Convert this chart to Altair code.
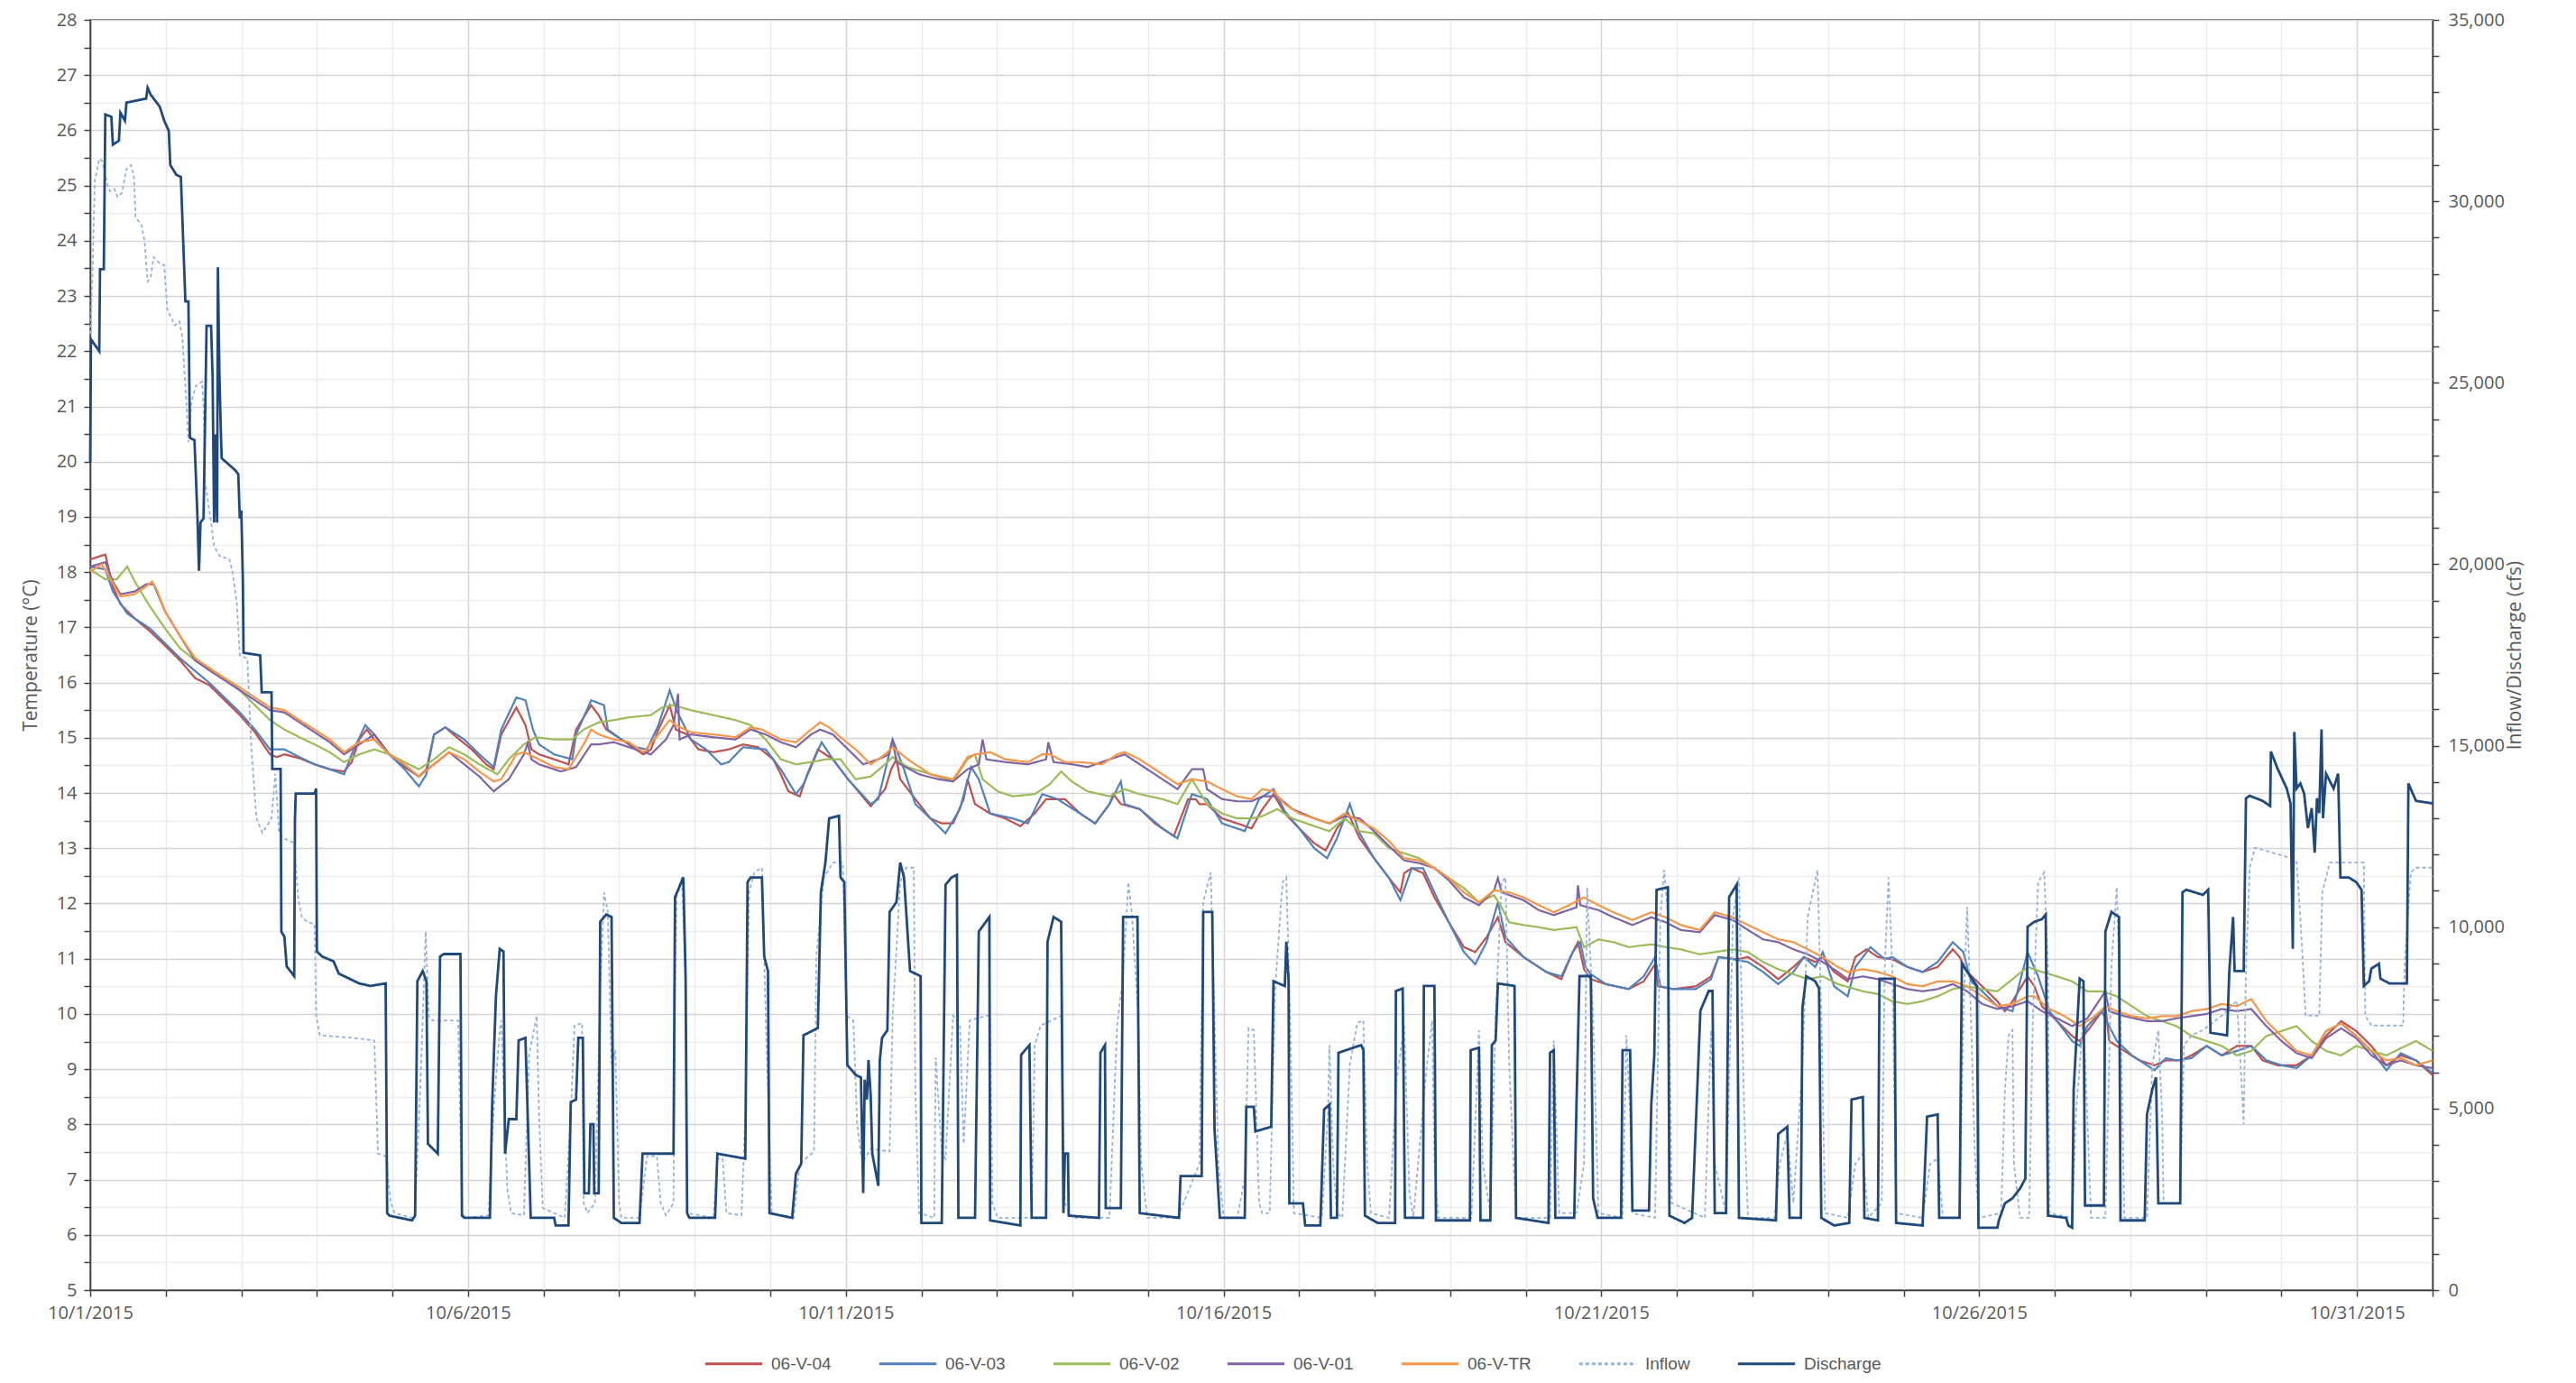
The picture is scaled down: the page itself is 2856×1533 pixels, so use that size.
import altair as alt
import pandas as pd

SERIES = ["06-V-04", "06-V-03", "06-V-02", "06-V-01", "06-V-TR", "Inflow", "Discharge"]
COLORS = ["#C0504D", "#4F81BD", "#9BBB59", "#8064A2", "#F79646", "#95B3D7", "#1F497D"]
DASHES = [[1, 0], [1, 0], [1, 0], [1, 0], [1, 0], [4, 3], [1, 0]]

# x = days since 10/1/2015, value = temperature (deg C)
V04 = [[0.00,18.23],[0.20,18.32],[0.30,17.74],[0.40,17.42],[0.59,17.16],[0.79,16.93],[0.99,16.67],[1.19,16.40],[1.39,16.08],[1.58,15.95],[1.78,15.68],[1.98,15.41],[2.18,15.10],[2.38,14.70],[2.47,14.65],[2.57,14.70],[2.77,14.63],[2.97,14.52],[3.17,14.43],[3.36,14.39],[3.46,14.56],[3.56,14.97],[3.66,15.15],[3.76,14.97],[3.96,14.70],[4.16,14.47],[4.35,14.30],[4.45,14.43],[4.55,15.06],[4.70,15.19],[4.85,15.01],[5.05,14.79],[5.24,14.52],[5.34,14.43],[5.44,15.06],[5.64,15.55],[5.76,15.23],[5.84,14.79],[5.94,14.70],[6.14,14.61],[6.33,14.52],[6.43,15.15],[6.63,15.59],[6.73,15.41],[6.83,15.15],[7.03,14.97],[7.22,14.79],[7.32,14.70],[7.42,14.79],[7.52,15.15],[7.67,15.59],[7.75,15.15],[7.90,15.06],[8.05,14.79],[8.25,14.74],[8.45,14.79],[8.64,14.88],[8.84,14.83],[9.04,14.61],[9.14,14.34],[9.24,14.03],[9.39,13.94],[9.49,14.34],[9.63,14.79],[9.83,14.61],[10.03,14.25],[10.33,13.76],[10.52,14.07],[10.60,14.43],[10.67,14.61],[10.72,14.25],[10.92,13.89],[11.12,13.54],[11.27,13.45],[11.42,13.45],[11.56,13.89],[11.61,14.25],[11.71,13.80],[11.91,13.63],[12.11,13.54],[12.31,13.40],[12.50,13.63],[12.65,13.89],[12.90,13.89],[13.10,13.63],[13.30,13.45],[13.49,13.80],[13.54,13.98],[13.64,13.80],[13.89,13.71],[14.09,13.45],[14.34,13.22],[14.53,13.89],[14.63,13.89],[14.68,13.80],[14.78,13.80],[14.98,13.54],[15.18,13.45],[15.37,13.36],[15.51,13.70],[15.66,13.98],[15.81,13.63],[16.00,13.36],[16.20,13.09],[16.35,12.96],[16.50,13.36],[16.65,13.63],[16.80,13.18],[16.99,12.82],[17.19,12.46],[17.34,12.20],[17.39,12.55],[17.49,12.64],[17.64,12.55],[17.79,12.11],[17.98,11.66],[18.18,11.21],[18.33,11.12],[18.48,11.39],[18.63,11.75],[18.73,11.30],[18.97,11.03],[19.27,10.76],[19.47,10.63],[19.62,11.12],[19.69,11.30],[19.77,10.81],[19.86,10.63],[20.06,10.54],[20.36,10.45],[20.56,10.59],[20.71,10.90],[20.75,10.50],[20.95,10.45],[21.25,10.50],[21.45,10.68],[21.55,11.03],[21.79,10.99],[21.94,11.03],[22.14,10.85],[22.34,10.63],[22.54,10.85],[22.68,11.03],[22.83,10.94],[22.93,11.03],[23.08,10.76],[23.26,10.59],[23.36,11.03],[23.51,11.17],[23.66,11.03],[23.85,10.99],[24.05,10.85],[24.25,10.76],[24.45,10.85],[24.65,11.17],[24.74,11.03],[24.84,10.76],[25.04,10.50],[25.24,10.23],[25.34,10.05],[25.44,10.23],[25.64,10.68],[25.73,10.50],[25.83,10.14],[26.03,9.87],[26.23,9.60],[26.33,9.51],[26.53,9.87],[26.67,10.14],[26.72,9.51],[26.92,9.33],[27.12,9.16],[27.32,9.07],[27.47,9.16],[27.66,9.16],[27.81,9.25],[28.01,9.42],[28.21,9.25],[28.41,9.42],[28.60,9.42],[28.75,9.16],[28.95,9.07],[29.20,9.07],[29.40,9.25],[29.59,9.60],[29.79,9.87],[29.99,9.69],[30.19,9.42],[30.39,9.07],[30.58,9.25],[30.78,9.16],[31.00,8.89]]

V03 = [[0.00,18.10],[0.20,18.05],[0.30,17.65],[0.49,17.25],[0.79,16.98],[1.19,16.44],[1.58,15.99],[1.98,15.46],[2.18,15.15],[2.38,14.79],[2.57,14.79],[2.77,14.65],[2.97,14.52],[3.17,14.43],[3.36,14.34],[3.46,14.70],[3.64,15.23],[3.76,15.06],[3.96,14.70],[4.16,14.43],[4.35,14.12],[4.45,14.34],[4.55,15.06],[4.70,15.19],[4.95,14.97],[5.15,14.70],[5.34,14.47],[5.44,15.15],[5.64,15.73],[5.76,15.68],[5.86,15.15],[5.94,14.88],[6.14,14.70],[6.38,14.61],[6.43,15.06],[6.63,15.68],[6.80,15.59],[6.85,15.15],[7.03,14.97],[7.22,14.83],[7.37,14.79],[7.52,15.23],[7.67,15.86],[7.76,15.50],[7.95,14.97],[8.15,14.79],[8.35,14.52],[8.45,14.56],[8.64,14.83],[8.94,14.79],[9.14,14.43],[9.34,13.98],[9.44,14.16],[9.68,14.92],[9.83,14.61],[10.03,14.25],[10.33,13.80],[10.43,13.89],[10.62,14.97],[10.77,14.43],[10.92,13.80],[11.12,13.54],[11.32,13.27],[11.51,13.71],[11.66,14.47],[11.76,14.25],[11.91,13.63],[12.21,13.54],[12.41,13.45],[12.60,13.98],[12.80,13.89],[13.10,13.63],[13.30,13.45],[13.49,13.80],[13.64,14.21],[13.69,13.80],[13.89,13.71],[14.19,13.36],[14.39,13.18],[14.58,13.98],[14.78,13.89],[14.98,13.45],[15.28,13.31],[15.47,13.89],[15.66,14.07],[15.81,13.67],[16.00,13.36],[16.20,13.00],[16.37,12.82],[16.50,13.18],[16.67,13.80],[16.80,13.27],[16.99,12.82],[17.19,12.46],[17.34,12.06],[17.49,12.64],[17.64,12.64],[17.79,12.20],[17.98,11.66],[18.18,11.12],[18.33,10.90],[18.48,11.30],[18.63,12.02],[18.73,11.39],[18.97,11.03],[19.27,10.76],[19.47,10.68],[19.62,11.12],[19.72,11.30],[19.79,10.85],[19.86,10.72],[20.06,10.54],[20.36,10.45],[20.56,10.68],[20.71,11.03],[20.78,10.50],[20.95,10.45],[21.25,10.45],[21.45,10.63],[21.55,11.03],[21.74,10.99],[21.94,10.94],[22.14,10.76],[22.34,10.54],[22.54,10.76],[22.68,11.03],[22.83,10.85],[22.93,11.12],[23.08,10.50],[23.26,10.32],[23.36,10.85],[23.56,11.21],[23.75,10.99],[23.85,11.03],[24.05,10.85],[24.25,10.76],[24.45,10.94],[24.65,11.30],[24.79,11.12],[24.89,10.59],[25.04,10.41],[25.24,10.14],[25.44,10.05],[25.64,11.12],[25.78,10.68],[25.93,10.05],[26.23,9.51],[26.33,9.42],[26.43,9.78],[26.62,10.05],[26.72,9.78],[26.82,9.51],[27.02,9.25],[27.22,9.07],[27.32,8.98],[27.47,9.20],[27.61,9.16],[27.81,9.20],[28.01,9.42],[28.21,9.25],[28.41,9.33],[28.60,9.42],[28.80,9.16],[29.00,9.07],[29.20,9.02],[29.40,9.25],[29.59,9.69],[29.79,9.83],[29.99,9.60],[30.19,9.33],[30.39,8.98],[30.58,9.29],[30.78,9.16],[31.00,8.93]]

V02 = [[0.00,18.05],[0.20,17.87],[0.35,17.87],[0.49,18.10],[0.59,17.83],[0.79,17.38],[0.99,16.98],[1.19,16.62],[1.39,16.40],[1.58,16.26],[1.78,16.08],[1.98,15.86],[2.18,15.59],[2.38,15.32],[2.57,15.15],[2.77,15.01],[2.97,14.88],[3.17,14.74],[3.36,14.56],[3.56,14.70],[3.76,14.79],[3.96,14.70],[4.16,14.56],[4.35,14.43],[4.55,14.61],[4.75,14.83],[4.95,14.70],[5.15,14.52],[5.39,14.34],[5.54,14.61],[5.74,14.88],[5.89,15.01],[6.14,14.97],[6.38,14.97],[6.53,15.15],[6.73,15.28],[6.93,15.32],[7.13,15.37],[7.42,15.41],[7.57,15.55],[7.72,15.59],[7.95,15.50],[8.25,15.41],[8.54,15.32],[8.74,15.23],[8.94,14.97],[9.14,14.61],[9.34,14.52],[9.54,14.56],[9.73,14.61],[9.93,14.61],[10.13,14.25],[10.33,14.30],[10.52,14.52],[10.62,14.65],[10.82,14.47],[11.12,14.34],[11.42,14.21],[11.61,14.61],[11.71,14.70],[11.81,14.25],[12.01,14.03],[12.21,13.94],[12.50,13.98],[12.70,14.16],[12.85,14.39],[12.99,14.21],[13.20,14.03],[13.49,13.94],[13.69,14.07],[13.89,13.98],[14.19,13.89],[14.39,13.80],[14.58,14.25],[14.78,13.80],[14.98,13.63],[15.18,13.54],[15.37,13.54],[15.51,13.58],[15.71,13.71],[15.91,13.54],[16.20,13.40],[16.40,13.31],[16.60,13.54],[16.80,13.31],[16.99,13.27],[17.19,13.00],[17.39,12.91],[17.59,12.82],[17.79,12.64],[17.98,12.46],[18.18,12.28],[18.38,12.02],[18.58,12.15],[18.68,11.93],[18.78,11.66],[18.97,11.61],[19.17,11.57],[19.37,11.52],[19.67,11.57],[19.77,11.21],[19.96,11.35],[20.16,11.30],[20.36,11.21],[20.66,11.26],[20.85,11.21],[21.05,11.17],[21.30,11.08],[21.50,11.12],[21.74,11.17],[21.94,11.12],[22.14,10.94],[22.34,10.81],[22.54,10.72],[22.73,10.63],[22.93,10.68],[23.13,10.54],[23.46,10.41],[23.66,10.36],[23.85,10.23],[24.05,10.18],[24.25,10.23],[24.45,10.32],[24.65,10.45],[24.84,10.50],[25.04,10.45],[25.24,10.41],[25.44,10.63],[25.64,10.85],[25.83,10.76],[26.03,10.68],[26.23,10.59],[26.43,10.41],[26.62,10.41],[26.82,10.32],[27.02,10.14],[27.22,9.96],[27.42,9.87],[27.61,9.78],[27.81,9.60],[28.01,9.51],[28.21,9.42],[28.41,9.25],[28.60,9.33],[28.80,9.60],[29.00,9.69],[29.20,9.78],[29.40,9.51],[29.59,9.33],[29.79,9.25],[29.99,9.42],[30.19,9.33],[30.39,9.25],[30.58,9.38],[30.78,9.51],[31.00,9.33]]

V01 = [[0.00,18.10],[0.20,18.18],[0.30,17.83],[0.40,17.60],[0.59,17.65],[0.74,17.78],[0.84,17.78],[0.99,17.29],[1.19,16.84],[1.39,16.40],[1.58,16.22],[1.78,16.04],[1.98,15.86],[2.18,15.68],[2.38,15.50],[2.57,15.46],[2.77,15.28],[2.97,15.10],[3.17,14.92],[3.36,14.70],[3.56,14.88],[3.76,15.06],[3.96,14.70],[4.35,14.30],[4.55,14.52],[4.75,14.74],[5.15,14.30],[5.34,14.03],[5.54,14.25],[5.74,14.70],[5.79,14.90],[5.84,14.61],[5.94,14.52],[6.23,14.39],[6.43,14.47],[6.63,14.88],[6.73,14.88],[6.93,14.92],[7.22,14.79],[7.42,14.70],[7.62,14.97],[7.72,15.23],[7.78,15.80],[7.80,14.97],[7.95,15.06],[8.25,15.01],[8.54,14.97],[8.74,15.15],[8.94,15.06],[9.14,14.92],[9.34,14.83],[9.54,15.06],[9.66,15.15],[9.83,15.06],[10.03,14.79],[10.23,14.52],[10.43,14.61],[10.57,14.70],[10.62,14.97],[10.67,14.56],[10.97,14.34],[11.22,14.25],[11.42,14.21],[11.61,14.43],[11.76,14.52],[11.81,14.97],[11.86,14.61],[12.11,14.56],[12.41,14.52],[12.65,14.61],[12.68,14.92],[12.75,14.56],[13.00,14.52],[13.20,14.47],[13.49,14.61],[13.69,14.70],[13.89,14.52],[14.19,14.25],[14.39,14.07],[14.58,14.43],[14.65,14.43],[14.73,14.43],[14.78,14.07],[14.98,13.89],[15.18,13.85],[15.37,13.85],[15.51,13.94],[15.71,13.94],[15.91,13.71],[16.20,13.54],[16.40,13.45],[16.60,13.58],[16.80,13.54],[16.99,13.31],[17.19,13.04],[17.39,12.78],[17.59,12.73],[17.79,12.64],[17.98,12.42],[18.18,12.11],[18.38,11.97],[18.58,12.24],[18.63,12.46],[18.68,12.20],[18.97,12.06],[19.17,11.88],[19.37,11.79],[19.67,11.93],[19.69,12.33],[19.72,11.97],[19.96,11.88],[20.16,11.75],[20.41,11.61],[20.66,11.75],[20.85,11.66],[21.05,11.52],[21.30,11.48],[21.50,11.79],[21.74,11.70],[21.94,11.52],[22.14,11.35],[22.34,11.30],[22.54,11.17],[22.73,11.08],[22.93,10.94],[23.13,10.76],[23.26,10.63],[23.46,10.68],[23.66,10.63],[23.85,10.54],[24.05,10.45],[24.25,10.41],[24.45,10.45],[24.65,10.54],[24.84,10.41],[25.04,10.18],[25.24,10.09],[25.44,10.14],[25.64,10.23],[25.83,10.05],[26.03,9.92],[26.23,9.78],[26.43,9.92],[26.67,10.41],[26.72,10.05],[26.92,9.96],[27.22,9.87],[27.42,9.87],[27.61,9.92],[27.81,9.96],[28.01,10.00],[28.21,10.09],[28.41,10.05],[28.60,10.09],[28.80,9.78],[29.00,9.51],[29.20,9.29],[29.40,9.20],[29.59,9.56],[29.79,9.74],[29.99,9.56],[30.19,9.25],[30.39,9.07],[30.58,9.16],[30.78,9.07],[31.00,9.02]]

VTR = [[0.00,18.01],[0.15,18.14],[0.25,17.92],[0.40,17.56],[0.59,17.60],[0.74,17.74],[0.82,17.83],[0.89,17.65],[0.99,17.29],[1.19,16.84],[1.39,16.44],[1.58,16.26],[1.78,16.08],[1.98,15.91],[2.18,15.73],[2.38,15.55],[2.57,15.50],[2.77,15.32],[2.97,15.15],[3.17,14.97],[3.36,14.74],[3.56,14.92],[3.76,14.97],[3.96,14.70],[4.16,14.52],[4.35,14.30],[4.55,14.52],[4.75,14.74],[4.95,14.61],[5.15,14.39],[5.34,14.21],[5.44,14.25],[5.64,14.70],[5.74,14.74],[5.94,14.61],[6.14,14.47],[6.33,14.43],[6.53,14.88],[6.63,15.15],[6.73,15.06],[6.93,14.97],[7.13,14.92],[7.32,14.74],[7.52,15.06],[7.67,15.32],[7.75,15.23],[7.95,15.10],[8.25,15.06],[8.54,15.01],[8.74,15.19],[8.89,15.15],[9.14,14.97],[9.34,14.92],[9.54,15.15],[9.66,15.28],[9.78,15.19],[9.93,15.01],[10.13,14.79],[10.33,14.52],[10.52,14.70],[10.62,14.83],[10.82,14.61],[11.12,14.34],[11.42,14.25],[11.51,14.43],[11.61,14.65],[11.71,14.70],[11.91,14.74],[12.11,14.61],[12.41,14.56],[12.60,14.70],[12.70,14.70],[12.90,14.56],[13.10,14.56],[13.39,14.52],[13.59,14.70],[13.69,14.74],[13.89,14.61],[14.09,14.43],[14.39,14.16],[14.58,14.25],[14.78,14.21],[14.98,14.07],[15.18,13.94],[15.37,13.89],[15.51,14.07],[15.66,14.03],[15.81,13.80],[16.00,13.63],[16.20,13.54],[16.40,13.45],[16.60,13.63],[16.80,13.49],[16.99,13.36],[17.19,13.13],[17.39,12.82],[17.59,12.78],[17.79,12.64],[17.98,12.46],[18.18,12.20],[18.38,12.02],[18.58,12.24],[18.78,12.20],[18.97,12.11],[19.17,11.97],[19.37,11.84],[19.57,11.97],[19.77,12.11],[19.96,11.97],[20.16,11.84],[20.41,11.70],[20.66,11.84],[20.85,11.75],[21.05,11.61],[21.30,11.52],[21.50,11.84],[21.74,11.75],[21.94,11.61],[22.14,11.48],[22.34,11.35],[22.54,11.30],[22.73,11.17],[22.93,11.03],[23.13,10.85],[23.26,10.76],[23.46,10.81],[23.66,10.76],[23.85,10.68],[24.05,10.54],[24.25,10.50],[24.45,10.59],[24.65,10.59],[24.84,10.50],[25.04,10.32],[25.24,10.14],[25.44,10.18],[25.64,10.32],[25.73,10.32],[25.93,10.09],[26.13,9.96],[26.33,9.78],[26.53,9.96],[26.67,10.14],[26.82,10.05],[27.02,9.96],[27.22,9.92],[27.42,9.96],[27.61,9.96],[27.81,10.05],[28.01,10.09],[28.21,10.18],[28.41,10.14],[28.60,10.27],[28.80,9.87],[29.00,9.60],[29.20,9.33],[29.40,9.25],[29.59,9.69],[29.79,9.83],[29.99,9.60],[30.19,9.33],[30.39,9.16],[30.58,9.20],[30.78,9.07],[31.00,9.16]]

# x = days since 10/1/2015, value = flow (cfs)
INFLOW = [[0.00,26170],[0.03,28000],[0.06,30560],[0.12,31170],[0.16,31110],[0.22,30510],[0.26,30280],[0.32,30340],[0.36,30120],[0.42,30230],[0.48,30890],[0.54,31000],[0.58,30670],[0.60,29560],[0.68,29340],[0.72,28900],[0.76,27790],[0.80,27900],[0.84,28460],[0.92,28290],[0.98,28240],[1.02,27020],[1.12,26580],[1.18,26690],[1.22,26240],[1.26,24920],[1.30,23370],[1.34,24470],[1.40,24920],[1.48,25030],[1.50,24360],[1.52,22260],[1.60,21150],[1.64,20490],[1.72,20210],[1.84,20150],[1.88,19820],[1.94,18940],[1.98,17490],[2.08,17400],[2.13,15040],[2.20,13000],[2.28,12600],[2.40,13000],[2.45,14230],[2.50,12600],[2.55,12460],[2.70,12320],[2.75,10830],[2.80,10280],[2.87,10150],[2.97,10080],[2.99,7560],[3.04,7020],[3.46,6950],[3.76,6880],[3.81,3760],[3.91,3690],[3.98,2400],[4.03,2120],[4.26,1990],[4.30,2120],[4.38,6200],[4.44,9880],[4.48,7560],[4.53,7430],[4.87,7430],[4.92,2120],[4.97,1990],[5.27,2060],[5.34,4980],[5.42,7160],[5.44,7430],[5.52,2800],[5.57,2120],[5.74,2060],[5.81,6480],[5.91,7560],[5.94,4840],[5.99,2260],[6.28,1990],[6.36,4840],[6.41,7290],[6.51,7360],[6.53,2400],[6.58,2120],[6.68,2400],[6.75,8240],[6.80,10960],[6.85,10420],[6.90,6200],[6.95,6610],[7.00,2400],[7.03,1990],[7.27,1990],[7.37,3690],[7.50,3690],[7.55,2400],[7.62,2060],[7.72,2400],[7.74,8240],[7.76,10830],[7.83,11370],[7.88,8520],[7.90,2120],[8.25,1990],[8.30,3620],[8.37,3620],[8.42,2120],[8.62,2060],[8.67,4840],[8.72,10960],[8.79,11510],[8.89,11640],[8.94,7560],[9.02,2120],[9.31,1990],[9.39,3480],[9.58,3820],[9.61,9200],[9.71,11370],[9.83,11780],[9.96,11780],[10.01,7560],[10.10,7430],[10.15,4570],[10.20,3760],[10.25,3620],[10.33,3890],[10.58,3820],[10.62,7560],[10.72,11240],[10.80,11640],[10.90,11640],[10.92,5520],[10.97,2120],[11.17,1990],[11.19,6410],[11.27,3760],[11.32,3620],[11.42,7560],[11.51,7290],[11.56,4030],[11.64,7430],[11.86,7560],[11.91,7560],[11.94,2400],[12.01,1990],[12.46,1990],[12.50,6750],[12.58,7290],[12.85,7560],[12.90,2400],[13.00,1990],[13.49,1990],[13.59,7290],[13.67,8650],[13.74,11240],[13.79,10280],[13.87,7560],[13.91,3480],[13.99,1990],[14.39,1990],[14.68,3480],[14.73,10690],[14.83,11510],[14.88,7560],[14.93,3480],[15.00,1990],[15.18,1990],[15.28,3080],[15.33,7220],[15.40,7160],[15.47,2400],[15.51,2120],[15.61,2120],[15.68,8240],[15.78,11240],[15.83,11370],[15.88,7560],[15.93,2120],[16.30,1990],[16.38,4840],[16.40,6750],[16.45,3480],[16.50,2120],[16.57,1990],[16.67,6200],[16.77,7360],[16.85,7430],[16.90,3480],[16.95,2120],[17.19,1990],[17.29,5800],[17.39,7290],[17.46,2670],[17.51,1990],[17.69,6200],[17.76,7430],[17.79,3480],[17.84,1990],[18.28,1990],[18.38,7160],[18.43,3480],[18.53,2120],[18.60,7560],[18.68,11240],[18.73,11370],[18.78,6200],[18.87,1990],[19.32,1990],[19.37,6880],[19.44,2120],[19.67,2120],[19.77,3480],[19.81,11100],[19.89,7560],[19.96,2120],[20.28,1990],[20.33,7020],[20.38,4840],[20.41,2120],[20.71,1990],[20.78,10280],[20.83,11580],[20.88,10280],[20.93,2400],[21.37,1990],[21.45,7160],[21.50,3480],[21.65,2120],[21.74,10280],[21.82,11370],[21.89,4840],[21.94,1990],[22.29,1990],[22.36,3480],[22.46,4300],[22.54,2400],[22.66,6200],[22.73,10280],[22.86,11580],[22.91,7560],[22.96,2120],[23.26,1990],[23.36,3480],[23.46,3760],[23.53,1990],[23.71,2400],[23.75,8920],[23.80,11370],[23.85,8920],[23.90,2120],[24.25,1990],[24.35,3480],[24.45,3620],[24.52,1990],[24.74,1990],[24.79,7560],[24.84,10560],[24.89,7560],[24.94,3890],[24.99,1990],[25.29,2120],[25.34,5520],[25.39,7020],[25.44,7160],[25.46,3480],[25.54,1990],[25.66,1990],[25.71,7560],[25.78,11240],[25.86,11510],[25.91,8920],[25.93,2120],[26.23,1990],[26.28,4840],[26.38,7560],[26.48,1990],[26.67,1990],[26.75,8920],[26.82,11100],[26.87,7560],[26.92,1990],[27.22,1990],[27.29,6200],[27.37,7160],[27.42,4840],[27.44,2400],[27.66,2400],[27.71,6750],[27.81,7020],[27.96,7160],[28.21,7560],[28.41,7970],[28.46,6200],[28.50,4570],[28.53,8920],[28.58,11640],[28.65,12190],[29.10,11920],[29.20,11780],[29.25,10280],[29.32,7560],[29.50,7560],[29.54,10960],[29.64,11780],[30.09,11780],[30.11,7560],[30.19,7290],[30.61,7290],[30.63,8920],[30.71,11510],[30.78,11640],[31.00,11640]]

DISCHARGE = [[0.00,22800],[0.01,26200],[0.12,25870],[0.13,28130],[0.18,28130],[0.20,32390],[0.28,32330],[0.30,31560],[0.38,31670],[0.40,32440],[0.46,32220],[0.48,32720],[0.74,32830],[0.76,33130],[0.80,32940],[0.92,32610],[0.98,32220],[1.04,31940],[1.06,31000],[1.14,30730],[1.20,30670],[1.26,27240],[1.30,27240],[1.32,23480],[1.38,23420],[1.40,22370],[1.42,21260],[1.44,19820],[1.46,21150],[1.50,21260],[1.54,26570],[1.60,26570],[1.62,25140],[1.64,21150],[1.66,23580],[1.68,21150],[1.69,28180],[1.71,25250],[1.73,23580],[1.74,22920],[1.92,22590],[1.96,22480],[1.98,21260],[2.00,21480],[2.02,19600],[2.03,17560],[2.25,17490],[2.27,16470],[2.40,16470],[2.41,14360],[2.52,14360],[2.53,9875],[2.57,9740],[2.60,8920],[2.70,8650],[2.71,13000],[2.72,13680],[2.97,13680],[2.99,13820],[3.00,9330],[3.07,9190],[3.22,9060],[3.29,8720],[3.36,8650],[3.56,8450],[3.71,8380],[3.91,8450],[3.93,2120],[3.96,2050],[4.26,1920],[4.30,2050],[4.33,8510],[4.40,8790],[4.45,8510],[4.47,4030],[4.60,3760],[4.63,9190],[4.68,9260],[4.90,9260],[4.92,2050],[4.95,1990],[5.29,1990],[5.32,5120],[5.37,8110],[5.42,9400],[5.47,9330],[5.49,3760],[5.54,4710],[5.64,4710],[5.67,6880],[5.76,6950],[5.83,1990],[6.14,1990],[6.16,1780],[6.33,1780],[6.36,5180],[6.43,5250],[6.46,6950],[6.52,6950],[6.54,2670],[6.60,2670],[6.62,4570],[6.66,4570],[6.67,2670],[6.73,2670],[6.75,10150],[6.83,10350],[6.90,10280],[6.93,1990],[7.03,1850],[7.27,1850],[7.31,3760],[7.72,3760],[7.74,10830],[7.85,11370],[7.88,8580],[7.90,2120],[7.93,1990],[8.27,1990],[8.30,3760],[8.67,3620],[8.70,11240],[8.74,11370],[8.89,11370],[8.92,9190],[8.97,8790],[8.99,2120],[9.29,1990],[9.34,3210],[9.41,3480],[9.44,7020],[9.63,7220],[9.67,10960],[9.73,11780],[9.78,13000],[9.91,13070],[9.93,11370],[9.98,11240],[10.02,6200],[10.13,5930],[10.20,5860],[10.23,2670],[10.25,5800],[10.28,5250],[10.30,6340],[10.33,5320],[10.35,3760],[10.40,3210],[10.43,2870],[10.45,6340],[10.48,6950],[10.55,7160],[10.58,10420],[10.67,10690],[10.72,11780],[10.77,11370],[10.85,8790],[10.99,8650],[11.00,1850],[11.27,1850],[11.32,11170],[11.40,11370],[11.47,11440],[11.49,1990],[11.71,1990],[11.76,9880],[11.90,10280],[11.91,1920],[12.31,1780],[12.32,6480],[12.43,6750],[12.46,1990],[12.65,1990],[12.67,9600],[12.75,10280],[12.85,10150],[12.88,2120],[12.90,3760],[12.94,3760],[12.95,2050],[13.35,1990],[13.37,6540],[13.43,6750],[13.44,2260],[13.64,2260],[13.67,10280],[13.86,10280],[13.89,2120],[14.41,1990],[14.43,3140],[14.71,3140],[14.73,10420],[14.85,10420],[14.88,4430],[14.95,1990],[15.28,1990],[15.30,5050],[15.40,5050],[15.42,4370],[15.63,4500],[15.66,8510],[15.81,8380],[15.83,9600],[15.86,8510],[15.87,2390],[16.05,2390],[16.08,1780],[16.28,1780],[16.33,4980],[16.40,5110],[16.42,1990],[16.50,1990],[16.52,6540],[16.82,6750],[16.85,6610],[16.87,2050],[17.04,1850],[17.27,1850],[17.28,8240],[17.37,8310],[17.40,1990],[17.64,1990],[17.65,8380],[17.79,8380],[17.81,1920],[18.26,1920],[18.27,6610],[18.38,6680],[18.40,1920],[18.53,1920],[18.55,6750],[18.60,6880],[18.63,8450],[18.85,8380],[18.87,1990],[19.30,1850],[19.32,6540],[19.37,6610],[19.39,1990],[19.64,1990],[19.67,5110],[19.71,8650],[19.86,8650],[19.89,2530],[19.95,1990],[20.26,1990],[20.28,6610],[20.38,6610],[20.41,2190],[20.63,2190],[20.66,5110],[20.70,6470],[20.73,11030],[20.88,11100],[20.90,2050],[21.10,1850],[21.20,1990],[21.31,7700],[21.42,8240],[21.47,8240],[21.50,2120],[21.65,2120],[21.69,10830],[21.79,11170],[21.82,1990],[22.31,1920],[22.34,4300],[22.46,4500],[22.49,1990],[22.64,1990],[22.66,7770],[22.71,8650],[22.83,8510],[22.88,8310],[22.91,1990],[23.08,1780],[23.28,1850],[23.31,5250],[23.46,5320],[23.48,1990],[23.66,1920],[23.68,8580],[23.88,8580],[23.90,1850],[24.25,1780],[24.31,4780],[24.45,4840],[24.47,1990],[24.74,1990],[24.77,8990],[24.97,8380],[24.99,1720],[25.24,1720],[25.26,1920],[25.34,2390],[25.44,2530],[25.54,2800],[25.61,3070],[25.64,10010],[25.73,10150],[25.83,10220],[25.88,10350],[25.91,2050],[26.15,1990],[26.18,1780],[26.23,1720],[26.25,5520],[26.33,8580],[26.38,8510],[26.40,2330],[26.65,2330],[26.67,9880],[26.75,10420],[26.80,10350],[26.85,10280],[26.87,1920],[27.19,1920],[27.22,4840],[27.29,5520],[27.34,5860],[27.37,2390],[27.66,2390],[27.69,10960],[27.74,11030],[27.96,10890],[28.03,11030],[28.06,7090],[28.28,7020],[28.31,8790],[28.36,10280],[28.38,8790],[28.50,8790],[28.53,13550],[28.58,13620],[28.75,13480],[28.85,13340],[28.86,14840],[28.95,14360],[29.07,13820],[29.12,13410],[29.15,9400],[29.17,15380],[29.20,13820],[29.25,13960],[29.30,13680],[29.35,12730],[29.40,13280],[29.44,12050],[29.47,13550],[29.50,13140],[29.53,15450],[29.55,13000],[29.59,14230],[29.69,13820],[29.75,14230],[29.78,11370],[29.89,11370],[29.99,11240],[30.06,11030],[30.09,8380],[30.16,8510],[30.19,8860],[30.29,8990],[30.31,8580],[30.43,8450],[30.66,8450],[30.68,13960],[30.78,13480],[31.00,13410]]


def frame(name, pts):
    return pd.DataFrame({
        "day": [p[0] for p in pts],
        "value": [p[1] for p in pts],
        "series": name,
        "idx": list(range(len(pts))),
    })


temp_df = pd.concat([frame("06-V-04", V04), frame("06-V-03", V03), frame("06-V-02", V02),
                     frame("06-V-01", V01), frame("06-V-TR", VTR)], ignore_index=True)
flow_df = pd.concat([frame("Inflow", INFLOW), frame("Discharge", DISCHARGE)], ignore_index=True)

LABEL_FONT = "Open Sans"
LEGEND_FONT = "Liberation Sans"
AXIS_DARK = "#404040"
TEXT = "#595959"

legend = alt.Legend(
    title=None, orient="none", legendX=680, legendY=1456, direction="horizontal",
    symbolType="stroke", symbolSize=4000, symbolStrokeWidth=3,
    labelFont=LEGEND_FONT, labelFontSize=19, labelColor=TEXT, labelOffset=8,
    columnPadding=46,
)

x_enc = alt.X(
    "day:Q",
    scale=alt.Scale(domain=[0, 31], nice=False, zero=False),
    axis=alt.Axis(
        values=list(range(32)),
        labelExpr="datum.value % 5 === 0 && datum.value < 31 ? '10/' + (datum.value + 1) + '/2015' : ''",
        title=None, grid=True,
        gridColor={"condition": {"test": "datum.value % 5 === 0", "value": "#d4d4d4"}, "value": "#ececec"},
        gridWidth=1.5, labelOverlap=False, labelFlush=False, labelPadding=8,
    ),
)

color_enc = alt.Color("series:N", scale=alt.Scale(domain=SERIES, range=COLORS), legend=legend)
dash_enc = alt.StrokeDash("series:N", scale=alt.Scale(domain=SERIES, range=DASHES), legend=legend)
order_enc = alt.Order("idx:Q")

temps = alt.Chart(temp_df).mark_line(strokeWidth=2.2).encode(
    x=x_enc,
    y=alt.Y(
        "value:Q",
        scale=alt.Scale(domain=[5, 28], nice=False, zero=False),
        axis=alt.Axis(
            values=[5 + 0.5 * i for i in range(47)],
            labelExpr="datum.value % 1 === 0 ? format(datum.value, 'd') : ''",
            title="Temperature (°C)", grid=True,
            gridColor={"condition": {"test": "datum.value % 1 === 0", "value": "#d4d4d4"}, "value": "#ececec"},
            gridWidth=1.5, labelOverlap=False, labelFlush=False, labelPadding=8, titlePadding=18,
        ),
    ),
    color=color_enc,
    strokeDash=dash_enc,
    order=order_enc,
)

flows = alt.Chart(flow_df).mark_line().encode(
    x=x_enc,
    y=alt.Y(
        "value:Q",
        scale=alt.Scale(domain=[0, 35000], nice=False, zero=True),
        axis=alt.Axis(
            orient="right",
            values=list(range(0, 35001, 1000)),
            labelExpr="datum.value % 5000 === 0 ? format(datum.value, ',') : ''",
            title="Inflow/Discharge (cfs)", titleAngle=270, grid=False,
            labelOverlap=False, labelFlush=False, labelPadding=10, titlePadding=22,
        ),
    ),
    color=color_enc,
    strokeDash=dash_enc,
    strokeWidth=alt.StrokeWidth("series:N", scale=alt.Scale(domain=["Inflow", "Discharge"], range=[1.8, 2.8]), legend=None),
    order=order_enc,
)

chart = alt.layer(temps, flows).resolve_scale(y="independent").properties(
    width=2597,
    height=1408,
    padding={"left": 92, "top": 14, "right": 140, "bottom": 94},
    autosize=alt.AutoSizeParams(type="none"),
).configure_view(
    stroke=AXIS_DARK, strokeWidth=1.5,
).configure_axis(
    domainColor=AXIS_DARK, domainWidth=1.5, tickColor=AXIS_DARK, tickWidth=1.5, tickSize=7,
    labelFont=LABEL_FONT, labelFontSize=20, labelColor=TEXT,
    titleFont=LABEL_FONT, titleFontSize=21, titleColor=TEXT, titleFontWeight="normal",
)

chart.save("out.html", embed_options={"renderer": "svg", "actions": False})
